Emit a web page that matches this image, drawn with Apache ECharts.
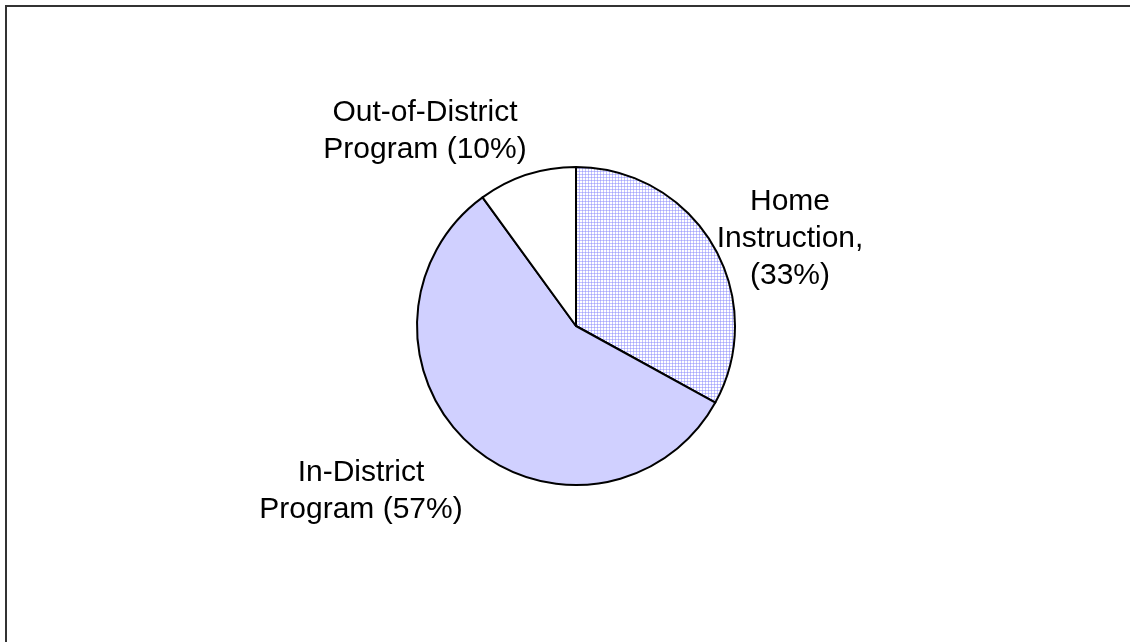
<!DOCTYPE html>
<html>
<head>
<meta charset="utf-8">
<script src="https://cdn.jsdelivr.net/npm/echarts@6/dist/echarts.min.js"></script>
<style>
  html, body { margin: 0; padding: 0; background: #ffffff; }
  #chart { width: 1130px; height: 642px; }
</style>
</head>
<body>
<div id="chart"></div>
<script>
// Placement categories and their shares (percent)
const categories = ['Home\nInstruction,', 'In-District\nProgram', 'Out-of-District\nProgram'];
const shares = [33, 57, 10];
const labelFormats = ['{name}\n({pct}%)', '{name} ({pct}%)', '{name} ({pct}%)'];

// Label anchor offsets from the pie centre (layout only)
const labelOffsets = [[214, -87], [-215, 165], [-151, -195]];

// Fine gingham fill for the home-instruction slice
function makeGrid() {
  const c = document.createElement('canvas');
  c.width = 3; c.height = 3;
  const g = c.getContext('2d');
  g.fillStyle = '#ffffff'; g.fillRect(0, 0, 3, 3);
  g.fillStyle = '#c4c4ff'; g.fillRect(0, 0, 3, 1); g.fillRect(0, 0, 1, 3);
  g.fillStyle = '#a8a8fa'; g.fillRect(0, 0, 1, 1);
  return c;
}

const fills = [
  { image: makeGrid(), repeat: 'repeat' },
  '#d0d0ff',
  '#ffffff'
];

const center = [576, 326];

const chart = echarts.init(document.getElementById('chart'), null, { renderer: 'canvas' });
chart.setOption({
  animation: false,
  backgroundColor: '#ffffff',
  graphic: [{
    type: 'rect',
    shape: { x: 6, y: 6, width: 1300, height: 800 },
    style: { fill: 'none', stroke: '#333333', lineWidth: 2 },
    silent: true
  }],
  series: [{
    type: 'pie',
    center: center,
    radius: 159,
    startAngle: 90,
    clockwise: true,
    avoidLabelOverlap: false,
    itemStyle: { borderColor: '#000000', borderWidth: 2 },
    labelLine: { show: false },
    label: {
      show: true,
      position: 'outside',
      fontFamily: 'Liberation Sans, Arial, sans-serif',
      fontSize: 30,
      lineHeight: 37,
      color: '#000000',
      align: 'center',
      formatter: function (p) {
        return labelFormats[p.dataIndex]
          .replace('{name}', p.name)
          .replace('{pct}', p.value);
      }
    },
    labelLayout: function (p) {
      const o = labelOffsets[p.dataIndex];
      return {
        x: center[0] + o[0],
        y: center[1] + o[1],
        align: 'center',
        verticalAlign: 'middle'
      };
    },
    data: categories.map(function (n, i) {
      return { name: n, value: shares[i], itemStyle: { color: fills[i] } };
    })
  }]
});
</script>
</body>
</html>
